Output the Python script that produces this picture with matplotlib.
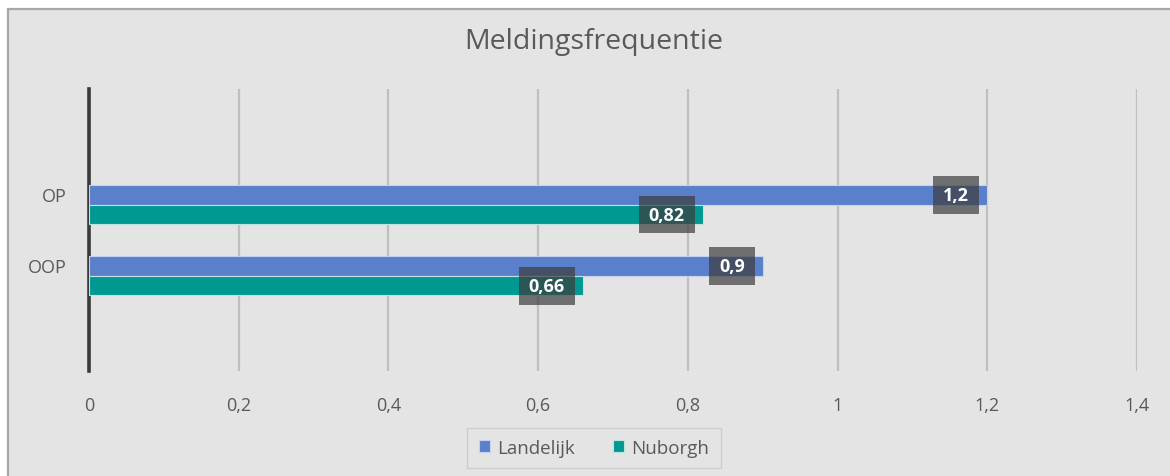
import matplotlib.pyplot as plt
from matplotlib.patches import Rectangle
import numpy as np

categories = ['OP', 'OOP']
landelijk = [1.2, 0.9]
nuborgh = [0.82, 0.66]
series_names = ['Landelijk', 'Nuborgh']
xticks = [0, 0.2, 0.4, 0.6, 0.8, 1.0, 1.2, 1.4]
xtick_labels = ['0', '0,2', '0,4', '0,6', '0,8', '1', '1,2', '1,4']

blue = '#5b80cb'
teal = '#009891'
txt = '#595959'

plt.rcParams['font.family'] = ['Open Sans', 'DejaVu Sans']

fig = plt.figure(figsize=(11.7, 4.77), dpi=100)
fig.patch.set_facecolor('white')
# chart area with border
fig.patches.append(Rectangle((8 / 1170, -0.05), 1.1, 1 - 10 / 477 + 0.05,
                             transform=fig.transFigure, facecolor='#e4e4e4',
                             edgecolor='#a8a8a8', linewidth=1.6, zorder=-10))

ax = fig.add_axes([89 / 1170, 1 - 372 / 477, (1137 - 89) / 1170, (372 - 90) / 477])
ax.set_facecolor('none')

y = np.arange(len(categories))
h = 0.275
ax.barh(y - h / 2, landelijk, height=h, color=blue, edgecolor='#c3d2ee',
        linewidth=0.8, label=series_names[0], zorder=3)
ax.barh(y + h / 2, nuborgh, height=h, color=teal, edgecolor='#bfe3e1',
        linewidth=0.8, label=series_names[1], zorder=3)

for vals, off in [(landelijk, -h / 2), (nuborgh, h / 2)]:
    for i, v in enumerate(vals):
        ax.annotate(f'{v:g}'.replace('.', ','), xy=(v, y[i] + off),
                    xytext=(-13, 0), textcoords='offset points',
                    ha='right', va='center', color='white', fontsize=13,
                    fontweight='bold', zorder=5,
                    bbox=dict(boxstyle='square,pad=0.55', facecolor='#3c3c3c',
                              edgecolor='none', alpha=0.7))

ax.set_xlim(0, 1.4)
ax.set_ylim(2.34, -1.63)
ax.set_xticks(xticks)
ax.set_xticklabels(xtick_labels)
ax.set_yticks(y - 0.15)
ax.set_yticklabels(categories)
ax.grid(axis='x', color='#bfbfbf', linewidth=1.6, zorder=0)
ax.set_axisbelow(True)
for s in ['top', 'right', 'bottom']:
    ax.spines[s].set_visible(False)
ax.spines['left'].set_color('#3a3a3a')
ax.spines['left'].set_linewidth(2.6)
ax.tick_params(axis='x', length=0, pad=18, labelsize=13, labelcolor=txt)
ax.tick_params(axis='y', length=0, pad=16, labelsize=13, labelcolor=txt)

fig.text(594 / 1170, 1 - 42 / 477, 'Meldingsfrequentie', ha='center', va='center',
         fontsize=20.5, color=txt)

leg = fig.legend(loc='center', bbox_to_anchor=(594 / 1170, 1 - 449 / 477),
                 ncol=2, frameon=True, fontsize=13.5, handlelength=0.6,
                 handleheight=0.6, columnspacing=2.0, handletextpad=0.4,
                 borderpad=0.6, borderaxespad=0, fancybox=False)
leg.get_frame().set_facecolor('#e4e4e4')
leg.get_frame().set_edgecolor('#c8c8c8')
for t in leg.get_texts():
    t.set_color(txt)

fig.savefig('out.png', dpi=100)
